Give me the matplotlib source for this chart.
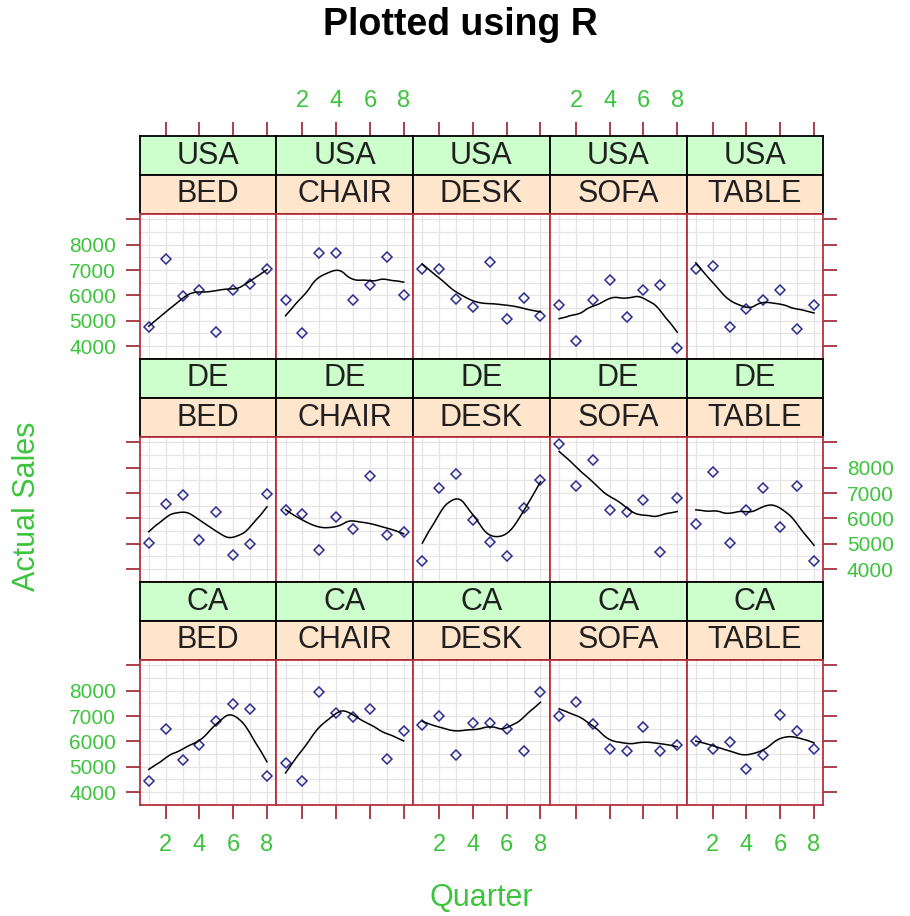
import matplotlib.pyplot as plt
import numpy as np
from matplotlib.ticker import MultipleLocator

plt.rcParams['font.family'] = ['Liberation Sans', 'DejaVu Sans']

# quarters 1..8, one array of actual sales per country/product panel
quarter = [1, 2, 3, 4, 5, 6, 7, 8]
countries = ['USA', 'DE', 'CA']
products = ['BED', 'CHAIR', 'DESK', 'SOFA', 'TABLE']

usa_bed = [4770, 7450, 5960, 6200, 4570, 6200, 6460, 7060]
usa_chair = [5800, 4500, 7680, 7680, 5800, 6420, 7520, 6020]
usa_desk = [7060, 7060, 5850, 5530, 7310, 5060, 5890, 5200]
usa_sofa = [5630, 4200, 5800, 6590, 5140, 6200, 6420, 3910]
usa_table = [7060, 7150, 4770, 5470, 5800, 6200, 4680, 5630]

de_bed = [5030, 6580, 6910, 5140, 6250, 4570, 4970, 6980]
de_chair = [6320, 6160, 4740, 6060, 5600, 7680, 5360, 5470]
de_desk = [4330, 7190, 7740, 5920, 5060, 4500, 6390, 7500]
de_sofa = [8930, 7280, 8300, 6320, 6250, 6710, 4680, 6820]
de_table = [5760, 7840, 5030, 6320, 7190, 5670, 7280, 4330]

ca_bed = [4450, 6500, 5250, 5840, 6820, 7470, 7290, 4620]
ca_chair = [5150, 4450, 7930, 7120, 6960, 7290, 5320, 6420]
ca_desk = [6660, 6990, 5450, 6720, 6720, 6500, 5630, 7930]
ca_sofa = [6990, 7540, 6680, 5710, 5630, 6570, 5630, 5870]
ca_table = [6030, 5710, 5960, 4920, 5450, 7050, 6420, 5710]

sales = [
    [usa_bed, usa_chair, usa_desk, usa_sofa, usa_table],
    [de_bed, de_chair, de_desk, de_sofa, de_table],
    [ca_bed, ca_chair, ca_desk, ca_sofa, ca_table],
]

x_ticks = [2, 4, 6, 8]
y_ticks = [4000, 5000, 6000, 7000, 8000, 9000]
y_ticklabels = ['4000', '5000', '6000', '7000', '8000', '']


def loess(x, y, span=2 / 3, iters=4, n_eval=50):
    # rough copy of R's loess.smooth: local linear, tricube weights,
    # kd-tree vertices + cubic hermite interpolation, bisquare robustness
    x = np.asarray(x, float)
    y = np.asarray(y, float)
    n = len(x)
    q = int(np.floor(n * span))

    lo, hi = x.min(), x.max()
    mu = 0.005 * (hi - lo)
    verts = [lo - mu, hi + mu]

    def split(pts):
        if len(pts) <= 1:
            return
        m = len(pts) // 2
        verts.append((pts[m - 1] + pts[m]) / 2)
        split(pts[:m])
        split(pts[m:])

    split(np.sort(x))
    verts = np.array(sorted(verts))

    def local(x0, rw):
        d = np.abs(x - x0)
        h = np.sort(d)[q - 1]
        w = np.clip(1 - (d / h) ** 3, 0, None) ** 3 * rw
        X = np.column_stack([np.ones(n), x - x0])
        A = X.T @ (X * w[:, None])
        b = X.T @ (w * y)
        return np.linalg.lstsq(A, b, rcond=None)[0]

    def surface(t, rw):
        fv = np.array([local(v, rw) for v in verts])
        out = []
        for ti in t:
            i = int(np.clip(np.searchsorted(verts, ti) - 1, 0, len(verts) - 2))
            a, b = verts[i], verts[i + 1]
            hh = b - a
            s = (ti - a) / hh
            f0, d0 = fv[i]
            f1, d1 = fv[i + 1]
            out.append((2 * s**3 - 3 * s**2 + 1) * f0 + (s**3 - 2 * s**2 + s) * hh * d0
                       + (-2 * s**3 + 3 * s**2) * f1 + (s**3 - s**2) * hh * d1)
        return np.array(out)

    rw = np.ones(n)
    for k in range(iters - 1):
        res = y - surface(x, rw)
        cmad = 6 * np.median(np.abs(res))
        rw = np.clip(1 - (res / cmad) ** 2, 0, None) ** 2
    xs = np.linspace(lo, hi, n_eval)
    return xs, surface(xs, rw)


red = '#b8303c'
tick_red = '#9c1f2e'
green = '#3cc43c'
W, H = 910, 916

fig = plt.figure(figsize=(W / 100, H / 100), dpi=100)

left0, top0 = 139.5, 136
col_w = 136.76
strip_h = 39
panel_h = 145
row_h = 2 * strip_h + panel_h


def box(x, y, w, h):
    return [x / W, 1 - (y + h) / H, w / W, h / H]


for r, country in enumerate(countries):
    for c, product in enumerate(products):
        x = left0 + c * col_w
        y = top0 + r * row_h

        # strips: country on top (green), product below (peach)
        for k, (lab, fc) in enumerate([(country, '#ccffcc'), (product, '#ffe5cc')]):
            sa = fig.add_axes(box(x, y + k * strip_h, col_w, strip_h))
            sa.set_facecolor(fc)
            sa.set_xlim(0.45, 8.55)
            sa.set_ylim(0, 1)
            sa.set_yticks([])
            for sp in sa.spines.values():
                sp.set_color('black')
                sp.set_linewidth(1.3)
            sa.text(0.5, 0.5, lab, transform=sa.transAxes, ha='center', va='center',
                    fontsize=22, color='#202020')
            if r == 0 and k == 0:
                sa.set_xticks(x_ticks)
                sa.tick_params(axis='x', top=True, bottom=False, labelbottom=False,
                               labeltop=(c % 2 == 1), direction='out', length=10,
                               width=1.2, color=tick_red, labelcolor=green,
                               labelsize=17, pad=7)
            else:
                sa.set_xticks([])

        ax = fig.add_axes(box(x, y + 2 * strip_h, col_w, panel_h))
        ax.set_xlim(0.45, 8.55)
        ax.set_ylim(3490, 9210)
        ax.set_xticks(x_ticks)
        ax.set_yticks(y_ticks)
        ax.set_yticklabels(y_ticklabels)
        ax.xaxis.set_minor_locator(MultipleLocator(1))
        ax.yaxis.set_minor_locator(MultipleLocator(500))
        ax.grid(True, which='both', color='#e4e4e4', linewidth=0.9)
        ax.set_axisbelow(True)
        for sp in ax.spines.values():
            sp.set_color(red)
            sp.set_linewidth(1.3)

        ax.tick_params(which='minor', length=0)
        ax.tick_params(axis='both', direction='out', length=10, width=1.2,
                       color=tick_red, labelcolor=green)
        ax.tick_params(axis='x', bottom=(r == 2), labelbottom=(r == 2 and c % 2 == 0),
                       labelsize=17, pad=11)
        ax.tick_params(axis='y', left=(c == 0), labelleft=(c == 0 and r != 1),
                       right=(c == 4), labelright=(c == 4 and r == 1),
                       labelsize=15, pad=7)

        vals = sales[r][c]
        ax.plot(quarter, vals, linestyle='none', marker='D', markersize=5.4,
                markerfacecolor='none', markeredgecolor='#2b2b90', markeredgewidth=1.1)
        xs, ys = loess(quarter, vals)
        ax.plot(xs, ys, color='black', linewidth=1.1)

fig.text(460 / W, 1 - 25 / H, 'Plotted using R', ha='center', va='center',
         fontsize=27, fontweight='bold')
fig.text(481 / W, 1 - 898 / H, 'Quarter', ha='center', va='center',
         fontsize=22, color=green)
fig.text(27 / W, 1 - 506 / H, 'Actual Sales', ha='center', va='center',
         fontsize=22, color=green, rotation=90)

fig.savefig('out.png', dpi=100)
